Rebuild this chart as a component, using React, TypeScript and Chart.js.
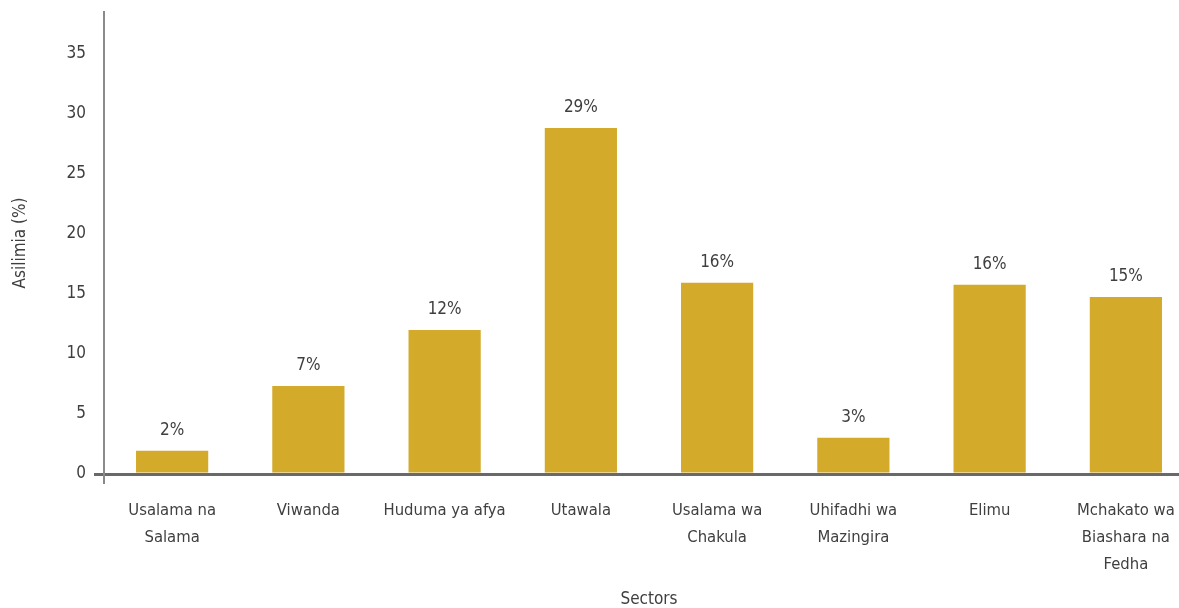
import React, { useEffect, useRef } from "react";
import { Chart, registerables } from "chart.js";

Chart.register(...registerables);

const categories: (string | string[])[] = [
  ["Usalama na", "Salama"],
  "Viwanda",
  "Huduma ya afya",
  "Utawala",
  ["Usalama wa", "Chakula"],
  ["Uhifadhi wa", "Mazingira"],
  "Elimu",
  ["Mchakato wa", "Biashara na", "Fedha"],
];
const values: number[] = [1.94, 7.33, 12.0, 28.83, 15.94, 3.03, 15.78, 14.75];
const valueLabels: string[] = ["2%", "7%", "12%", "29%", "16%", "3%", "16%", "15%"];

const FONT = "'DejaVu Sans Condensed', 'Liberation Sans', sans-serif";
const TEXT = "#3f3f3f";
const BAR = "#D4AA2A";
const AXIS_DARK = "rgba(55,55,55,0.75)";
const AXIS_GRAY = "#8a8a8a";

const labelPlugin = {
  id: "barValueLabels",
  afterDatasetsDraw(chart: any) {
    const ctx = chart.ctx;
    const meta = chart.getDatasetMeta(0);
    ctx.save();
    ctx.font = `17px ${FONT}`;
    ctx.fillStyle = TEXT;
    ctx.textAlign = "center";
    ctx.textBaseline = "middle";
    meta.data.forEach((el: any, i: number) => {
      ctx.fillText(valueLabels[i], el.x, el.y - 20);
    });
    ctx.restore();
  },
};

export default function App() {
  const ref = useRef<HTMLCanvasElement | null>(null);
  useEffect(() => {
    if (!ref.current) return;
    const chart = new Chart(ref.current, {
      type: "bar",
      data: {
        labels: categories as any,
        datasets: [
          {
            data: values,
            backgroundColor: BAR,
            borderWidth: 0,
            barPercentage: 0.53,
            categoryPercentage: 1,
          },
        ],
      },
      plugins: [labelPlugin],
      options: {
        responsive: false,
        animation: false,
        layout: { padding: { top: 12, right: 6, bottom: 0, left: 0 } },
        plugins: {
          legend: { display: false },
          tooltip: { enabled: false },
        },
        scales: {
          x: {
            z: 1,
            offset: true,
            grid: {
              drawOnChartArea: false,
              drawTicks: true,
              tickLength: 10,
              offset: true,
              color: (c: any) => (c.index === 0 ? AXIS_GRAY : "rgba(0,0,0,0)"),
              lineWidth: 2,
            },
            border: { display: true, color: AXIS_DARK, width: 3 },
            ticks: {
              color: TEXT,
              font: { family: FONT, size: 16.5, lineHeight: 1.64 },
              maxRotation: 0,
              minRotation: 0,
              autoSkip: false,
              padding: 13,
            },
            title: {
              display: true,
              text: "Sectors",
              color: TEXT,
              font: { family: FONT, size: 17, lineHeight: 1.0 },
              padding: { top: 0, bottom: 0 },
            },
            afterFit: (s: any) => {
              s.height = 134;
              s.paddingLeft = 0;
              s.paddingRight = 0;
            },
          },
          y: {
            min: 0,
            max: 38.5,
            ticks: {
              stepSize: 5,
              includeBounds: false,
              color: TEXT,
              font: { family: FONT, size: 17 },
              padding: 8,
            },
            grid: {
              drawOnChartArea: false,
              drawTicks: true,
              tickLength: 10,
              color: (c: any) => (c.tick && c.tick.value === 0 ? AXIS_DARK : "rgba(0,0,0,0)"),
              lineWidth: 3,
            },
            border: { display: true, color: AXIS_GRAY, width: 2 },
            title: {
              display: true,
              text: "Asilimia (%)",
              color: TEXT,
              font: { family: FONT, size: 17, lineHeight: 1.2 },
              padding: { top: 10, bottom: 4 },
            },
            afterFit: (s: any) => {
              s.width = 104;
              s.paddingTop = 0;
              s.paddingBottom = 0;
            },
          },
        },
      },
    });
    return () => chart.destroy();
  }, []);

  return (
    <div
      style={{
        position: "absolute",
        left: 0,
        top: 0,
        width: 1179,
        height: 608,
        overflow: "hidden",
        background: "#fff",
      }}
    >
      <canvas ref={ref} width={1200} height={608} style={{ display: "block" }} />
    </div>
  );
}
